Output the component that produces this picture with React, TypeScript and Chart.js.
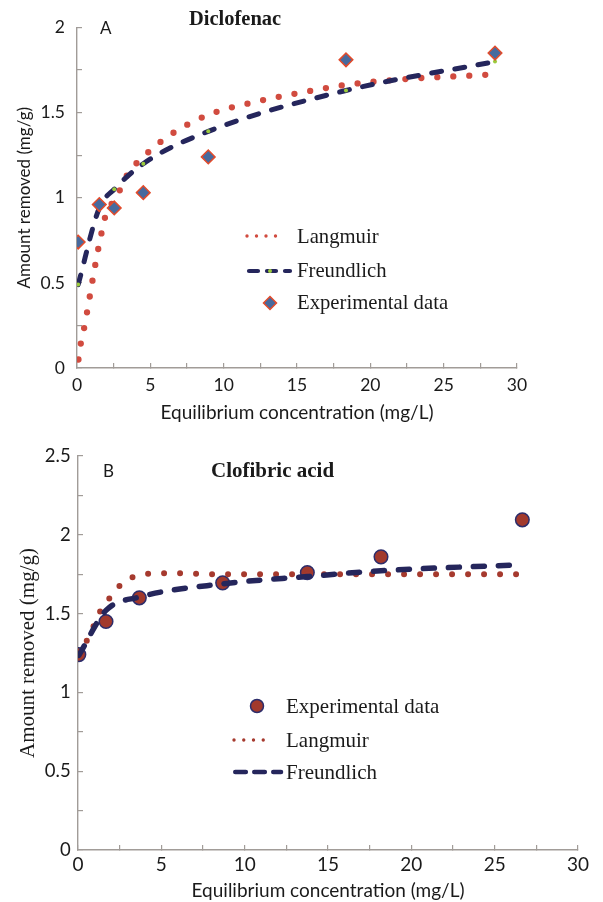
import React, { useEffect, useRef } from "react";
import { Chart, registerables } from "chart.js";

Chart.register(...registerables);

// ---------------- Panel A: Diclofenac ----------------
const dicloExpX = [0.08, 1.52, 2.54, 4.52, 8.95, 18.34, 28.5];
const dicloExpY = [0.74, 0.96, 0.94, 1.03, 1.24, 1.81, 1.85];
const dicloFreundY = [0.49, 0.94, 1.05, 1.2, 1.39, 1.63, 1.8];
const dicloLangX = [0.1, 0.27, 0.5, 0.7, 1.07, 1.52, 2.07, 2.54, 3.5, 4.52, 6.23, 8.95, 12.2, 15.55, 18.34, 22.86, 26.27, 28.5];
const dicloLangY = [0.05, 0.15, 0.24, 0.335, 0.52, 0.73, 0.93, 0.98, 1.145, 1.24, 1.362, 1.487, 1.564, 1.622, 1.663, 1.7, 1.715, 1.725];

// ---------------- Panel B: Clofibric acid ----------------
const clofExpX = [0.05, 1.68, 3.68, 8.68, 13.76, 18.18, 26.66];
const clofExpY = [1.24, 1.45, 1.6, 1.695, 1.76, 1.86, 2.095];
const clofFreundY = [1.235, 1.52, 1.605, 1.689, 1.735, 1.772, 1.81];
const clofLangX = [0.05, 0.48, 0.88, 1.24, 1.68, 2.24, 2.92, 3.68, 4.56, 5.56, 8.68, 13.76, 18.18, 26.66];
const clofLangY = [1.24, 1.318, 1.407, 1.498, 1.566, 1.646, 1.714, 1.741, 1.756, 1.756, 1.749, 1.749, 1.749, 1.749];

// ---------------- Tick labels ----------------
const xTickLabels = ["0", "5", "10", "15", "20", "25", "30"];
const yTickLabelsA = ["0", "0.5", "1", "1.5", "2"];
const yTickLabelsB = ["0", "0.5", "1", "1.5", "2", "2.5"];

const SANS = 'Lato, "Open Sans", sans-serif';
const SERIF = '"Liberation Serif", "Times New Roman", serif';
const TEXT = "#1a1a1a";
const AXIS = "#a19c98";
const NAVY = "#25265c";
const GREEN = "#9bcb3c";
const RED_A = "#d14b3f";
const RED_B = "#a63a2e";
const DIAMOND_FILL = "#476a9e";
const DIAMOND_EDGE = "#e34b2b";
const CIRCLE_FILL = "#a2392c";
const CIRCLE_EDGE = "#2d2d6b";

const pts = (xs: number[], ys: number[]) => xs.map((x, i) => ({ x, y: ys[i] }));

type Opts = {
  xHeight: number;
  xPad: number;
  xTickSize: number;
  xTitleSize: number;
  xTitlePad: number;
  yWidth: number;
  yPad: number;
  yTickSize: number;
  yMax: number;
  yLabels: string[];
  yTitleFont: string;
  yTitleSize: number;
  yTitlePad: number;
};

function makeScales(o: Opts) {
  return {
    x: {
      type: "linear",
      min: 0,
      max: 30,
      afterFit: (s: any) => {
        s.height = o.xHeight;
      },
      ticks: {
        stepSize: 2.5,
        autoSkip: false,
        maxRotation: 0,
        padding: o.xPad,
        color: TEXT,
        font: { family: SANS, size: o.xTickSize },
        callback: (v: number) => {
          const i = v / 5;
          return Number.isInteger(i) ? xTickLabels[i] : "";
        },
      },
      grid: { drawOnChartArea: false, drawTicks: true, tickLength: -5, color: AXIS, lineWidth: 1.2 },
      border: { display: true, color: AXIS, width: 1.4 },
      title: {
        display: true,
        text: "Equilibrium concentration (mg/L)",
        color: TEXT,
        font: { family: SANS, size: o.xTitleSize },
        padding: { top: 0, bottom: o.xTitlePad },
      },
    },
    y: {
      type: "linear",
      min: 0,
      max: o.yMax,
      afterFit: (s: any) => {
        s.width = o.yWidth;
      },
      ticks: {
        stepSize: 0.25,
        autoSkip: false,
        padding: o.yPad,
        color: TEXT,
        font: { family: SANS, size: o.yTickSize },
        callback: (v: number) => {
          const i = Math.round(v * 2);
          return Math.abs(v * 2 - i) < 1e-9 ? o.yLabels[i] : "";
        },
      },
      grid: { drawOnChartArea: false, drawTicks: true, tickLength: -5, color: AXIS, lineWidth: 1.2 },
      border: { display: true, color: AXIS, width: 1.4 },
      title: {
        display: true,
        text: "Amount removed (mg/g)",
        color: TEXT,
        font: { family: o.yTitleFont, size: o.yTitleSize },
        padding: { top: o.yTitlePad, bottom: 0 },
      },
    },
  };
}

function dotLine(ctx: CanvasRenderingContext2D, x1: number, x2: number, y: number, color: string, w: number, dash: number[]) {
  ctx.save();
  ctx.strokeStyle = color;
  ctx.lineWidth = w;
  ctx.lineCap = "round";
  ctx.setLineDash(dash);
  ctx.beginPath();
  ctx.moveTo(x1, y);
  ctx.lineTo(x2, y);
  ctx.stroke();
  ctx.restore();
}

function txt(ctx: CanvasRenderingContext2D, s: string, x: number, y: number, font: string) {
  ctx.save();
  ctx.font = font;
  ctx.fillStyle = TEXT;
  ctx.textAlign = "left";
  ctx.textBaseline = "alphabetic";
  ctx.fillText(s, x, y);
  ctx.restore();
}

const overlayA = {
  id: "overlayA",
  afterDraw(chart: any) {
    const ctx: CanvasRenderingContext2D = chart.ctx;
    txt(ctx, "A", 100, 34, `17px ${SANS}`);
    txt(ctx, "Diclofenac", 189, 25, `bold 20.5px ${SERIF}`);
    // legend
    dotLine(ctx, 247, 285, 236, RED_A, 3.4, [0, 9.5]);
    txt(ctx, "Langmuir", 297, 243, `20.7px ${SERIF}`);
    dotLine(ctx, 249, 290, 271, NAVY, 4.2, [9, 9]);
    ctx.save();
    ctx.fillStyle = GREEN;
    ctx.beginPath();
    ctx.arc(270, 271, 2, 0, Math.PI * 2);
    ctx.fill();
    ctx.restore();
    txt(ctx, "Freundlich", 297, 277, `20.7px ${SERIF}`);
    ctx.save();
    ctx.fillStyle = DIAMOND_FILL;
    ctx.strokeStyle = DIAMOND_EDGE;
    ctx.lineWidth = 1.5;
    ctx.beginPath();
    const cx = 270, cy = 303, r = 6.5;
    ctx.moveTo(cx, cy - r);
    ctx.lineTo(cx + r, cy);
    ctx.lineTo(cx, cy + r);
    ctx.lineTo(cx - r, cy);
    ctx.closePath();
    ctx.fill();
    ctx.stroke();
    ctx.restore();
    txt(ctx, "Experimental data", 297, 309, `20.7px ${SERIF}`);
  },
};

const B_TOP = 430;
const overlayB = {
  id: "overlayB",
  afterDraw(chart: any) {
    const ctx: CanvasRenderingContext2D = chart.ctx;
    const o = -B_TOP;
    txt(ctx, "B", 103, 477 + o, `17px ${SANS}`);
    txt(ctx, "Clofibric acid", 211, 477 + o, `bold 21px ${SERIF}`);
    ctx.save();
    ctx.fillStyle = CIRCLE_FILL;
    ctx.strokeStyle = CIRCLE_EDGE;
    ctx.lineWidth = 1.5;
    ctx.beginPath();
    ctx.arc(257, 706 + o, 6.5, 0, Math.PI * 2);
    ctx.fill();
    ctx.stroke();
    ctx.restore();
    txt(ctx, "Experimental data", 286, 712.5 + o, `21px ${SERIF}`);
    dotLine(ctx, 234, 273, 740 + o, RED_B, 3.4, [0, 9.75]);
    txt(ctx, "Langmuir", 286, 746.5 + o, `21px ${SERIF}`);
    dotLine(ctx, 235.3, 281, 772 + o, NAVY, 4.6, [10.5, 8.5]);
    txt(ctx, "Freundlich", 286, 779 + o, `21px ${SERIF}`);
  },
};

function useChart(ref: React.RefObject<HTMLCanvasElement | null>, build: () => any) {
  useEffect(() => {
    if (!ref.current) return;
    const chart = new Chart(ref.current, build());
    return () => chart.destroy();
  }, []);
}

export default function App() {
  const refA = useRef<HTMLCanvasElement>(null);
  const refB = useRef<HTMLCanvasElement>(null);

  useChart(refA, () => ({
    type: "line",
    data: {
      datasets: [
        {
          label: "Experimental data",
          data: pts(dicloExpX, dicloExpY),
          showLine: false,
          pointStyle: "rectRot",
          pointRadius: 6.8,
          pointBackgroundColor: DIAMOND_FILL,
          pointBorderColor: DIAMOND_EDGE,
          pointBorderWidth: 1.5,
        },
        {
          label: "Freundlich",
          data: pts(dicloExpX, dicloFreundY),
          borderColor: NAVY,
          borderWidth: 5,
          borderDash: [10, 13.5],
          borderCapStyle: "round",
          cubicInterpolationMode: "monotone",
          pointRadius: 2,
          pointBackgroundColor: GREEN,
          pointBorderWidth: 0,
        },
        {
          label: "Langmuir",
          data: pts(dicloLangX, dicloLangY),
          borderColor: RED_A,
          borderWidth: 6.3,
          borderDash: [0, 16],
          borderCapStyle: "round",
          cubicInterpolationMode: "monotone",
          pointRadius: 0,
        },
      ],
    },
    options: {
      animation: false,
      responsive: false,
      events: [],
      layout: { padding: { top: 22, right: 86, left: 0, bottom: 0 } },
      plugins: { legend: { display: false }, tooltip: { enabled: false } },
      scales: makeScales({
        xHeight: 62,
        xPad: 11.5,
        xTickSize: 17.5,
        xTitleSize: 19,
        xTitlePad: 5.6,
        yWidth: 77,
        yPad: 17,
        yTickSize: 17.5,
        yMax: 2,
        yLabels: yTickLabelsA,
        yTitleFont: SANS,
        yTitleSize: 17,
        yTitlePad: 14.8,
      }),
    },
    plugins: [overlayA],
  }));

  useChart(refB, () => ({
    type: "line",
    data: {
      datasets: [
        {
          label: "Freundlich",
          data: pts(clofExpX, clofFreundY),
          borderColor: NAVY,
          borderWidth: 5.5,
          borderDash: [11, 14],
          borderCapStyle: "round",
          cubicInterpolationMode: "monotone",
          pointRadius: 0,
        },
        {
          label: "Langmuir",
          data: pts(clofLangX, clofLangY),
          borderColor: RED_B,
          borderWidth: 6,
          borderDash: [0, 16],
          borderCapStyle: "round",
          cubicInterpolationMode: "monotone",
          pointRadius: 0,
        },
        {
          label: "Experimental data",
          data: pts(clofExpX, clofExpY),
          showLine: false,
          pointStyle: "circle",
          pointRadius: 6.8,
          pointBackgroundColor: CIRCLE_FILL,
          pointBorderColor: CIRCLE_EDGE,
          pointBorderWidth: 1.5,
        },
      ],
    },
    options: {
      animation: false,
      responsive: false,
      events: [],
      layout: { padding: { top: 26, right: 25, left: 0, bottom: 0 } },
      plugins: { legend: { display: false }, tooltip: { enabled: false } },
      scales: makeScales({
        xHeight: 52,
        xPad: 8.5,
        xTickSize: 19,
        xTitleSize: 19,
        xTitlePad: 0,
        yWidth: 78,
        yPad: 12.3,
        yTickSize: 18.5,
        yMax: 2.5,
        yLabels: yTickLabelsB,
        yTitleFont: SERIF,
        yTitleSize: 21,
        yTitlePad: 15.4,
      }),
    },
    plugins: [overlayB],
  }));

  return (
    <div style={{ position: "absolute", left: 0, top: 0, width: 603, height: 902, background: "#fff" }}>
      <canvas ref={refA} width={603} height={430} style={{ position: "absolute", left: 0, top: 0 }} />
      <canvas ref={refB} width={603} height={472} style={{ position: "absolute", left: 0, top: B_TOP }} />
    </div>
  );
}
